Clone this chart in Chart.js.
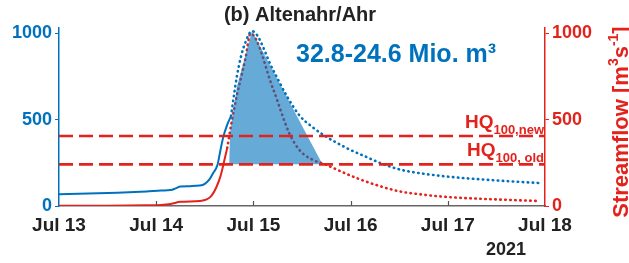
<!DOCTYPE html>
<html>
<head>
<meta charset="utf-8">
<script src="https://cdn.jsdelivr.net/npm/chart.js@4"></script>
<style>
  body { margin: 0; background: #fff; }
  #wrap { width: 629px; height: 263px; }
</style>
</head>
<body>
<div id="wrap"><canvas id="flowChart" width="629" height="263"></canvas></div>
<script>
// time axis is in days since Jul 13 2021 00:00
const dayLabels = ['Jul 13', 'Jul 14', 'Jul 15', 'Jul 16', 'Jul 17', 'Jul 18'];
const yTicks = [0, 500, 1000];
const hqNew = 405;
const hqOld = 241;

// gauge record (solid) and reconstructed peak (dotted), blue series
const blueObserved = [[0, 68], [0.3, 72], [0.6, 77], [0.9, 84], [1.05, 89], [1.15, 92], [1.2, 102],
  [1.25, 113], [1.35, 115], [1.45, 118], [1.5, 128], [1.55, 155], [1.585, 190], [1.63, 237],
  [1.66, 320], [1.69, 399], [1.73, 470], [1.77, 520]];
const blueDotted = [[1.77, 520], [1.8, 640], [1.83, 750], [1.87, 860], [1.92, 950], [1.985, 1012],
  [2.2, 790], [2.35, 630], [2.48, 520], [2.6, 460], [2.71, 415], [2.96, 335], [3.17, 282],
  [3.3, 250], [3.5, 212], [3.71, 190], [4.0, 170], [4.5, 148], [4.94, 133]];

// red series
const redObserved = [[0, 2], [0.5, 2], [0.9, 4], [1.05, 6], [1.15, 12], [1.25, 24], [1.45, 29],
  [1.52, 38], [1.57, 60], [1.62, 110], [1.66, 170], [1.69, 237], [1.73, 335]];
const redDotted = [[1.73, 335], [1.78, 497], [1.83, 640], [1.88, 760], [1.92, 860], [1.97, 998],
  [2.2, 682], [2.37, 420], [2.48, 320], [2.6, 270], [2.75, 238], [2.9, 200], [3.06, 162],
  [3.3, 115], [3.5, 85], [3.71, 68], [4.0, 52], [4.5, 38], [4.94, 29]];

// volume above HQ100,old (shaded)
const volumeArea = [[1.75, 241], [1.76, 420], [1.83, 688], [1.985, 1012], [2.71, 241]];

const titleText = '(b) Altenahr/Ahr';
const volumeText = '32.8-24.6 Mio. m\u00b3';
const yearText = '2021';
// right axis title pieces: [text, superscript?]
const rightTitle = [['Streamflow [m', false], ['3', true], ['s', false], ['-1', true], [']', false]];

const BLUE = '#0072BD';
const RED = '#e3231b';
const FONT = "'Liberation Sans', Arial, sans-serif";

const pts = arr => arr.map(p => ({ x: p[0], y: p[1] }));
const hLine = v => [{ x: 0, y: v }, { x: 5, y: v }];

Chart.defaults.font.family = FONT;

const extras = {
  id: 'extras',
  afterDraw(chart) {
    const ctx = chart.ctx;
    const area = chart.chartArea;
    const xs = chart.scales.x;
    const ys = chart.scales.y;
    ctx.save();

    // title
    ctx.fillStyle = '#222';
    ctx.textAlign = 'center';
    ctx.textBaseline = 'alphabetic';
    ctx.font = 'bold 20px ' + FONT;
    ctx.fillText(titleText, 300, 21);

    // small inward ticks on the time axis
    ctx.strokeStyle = '#555';
    ctx.lineWidth = 1.2;
    for (let i = 1; i < dayLabels.length - 1; i++) {
      const px = Math.round(xs.getPixelForValue(i)) + 0.5;
      ctx.beginPath();
      ctx.moveTo(px, area.bottom);
      ctx.lineTo(px, area.bottom - 5);
      ctx.stroke();
    }

    // HQ labels with subscripts
    ctx.fillStyle = RED;
    ctx.textAlign = 'right';
    [[hqNew, '100,new'], [hqOld, '100, old']].forEach(([v, sub]) => {
      const py = ys.getPixelForValue(v);
      const right = area.right - 1;
      ctx.font = 'bold 13px ' + FONT;
      ctx.fillText(sub, right, py - 2);
      const w = ctx.measureText(sub).width;
      ctx.font = 'bold 19px ' + FONT;
      ctx.fillText('HQ', right - w, py - 8);
    });

    // volume annotation
    ctx.fillStyle = BLUE;
    ctx.textAlign = 'left';
    ctx.font = 'bold 25px ' + FONT;
    ctx.fillText(volumeText, area.left + 237, area.top + 34);

    // year under last tick
    ctx.fillStyle = '#222';
    ctx.textAlign = 'center';
    ctx.font = 'bold 18px ' + FONT;
    ctx.fillText(yearText, area.right - 39, 255);

    // right axis title, reading bottom to top, with superscripts
    ctx.translate(628, (area.top + area.bottom) / 2 + 5);
    ctx.rotate(-Math.PI / 2);
    ctx.fillStyle = RED;
    ctx.textAlign = 'left';
    const big = 'bold 22px ' + FONT;
    const small = 'bold 14px ' + FONT;
    let total = 0;
    rightTitle.forEach(([t, sup]) => {
      ctx.font = sup ? small : big;
      total += ctx.measureText(t).width;
    });
    let u = -total / 2;
    rightTitle.forEach(([t, sup]) => {
      ctx.font = sup ? small : big;
      ctx.fillText(t, u, sup ? -10 : 0);
      u += ctx.measureText(t).width;
    });

    ctx.restore();
  }
};

const ctx = document.getElementById('flowChart').getContext('2d');
new Chart(ctx, {
  type: 'line',
  data: {
    datasets: [
      {
        data: hLine(hqNew),
        borderColor: RED, borderWidth: 2.6, borderDash: [14, 6],
        pointRadius: 0, order: 0
      },
      {
        data: hLine(hqOld),
        borderColor: RED, borderWidth: 2.6, borderDash: [14, 6],
        pointRadius: 0, order: 0
      },
      {
        data: pts(blueObserved),
        borderColor: BLUE, borderWidth: 2, pointRadius: 0,
        cubicInterpolationMode: 'monotone', order: 1
      },
      {
        data: pts(redObserved),
        borderColor: RED, borderWidth: 2, pointRadius: 0,
        cubicInterpolationMode: 'monotone', order: 2
      },
      {
        data: pts(volumeArea),
        borderWidth: 0, pointRadius: 0, tension: 0,
        backgroundColor: 'rgba(0, 114, 189, 0.6)',
        fill: { value: hqOld }, order: 3
      },
      {
        data: pts(blueDotted),
        borderColor: BLUE, borderWidth: 2.6, borderDash: [0.5, 4.5], borderCapStyle: 'round',
        pointRadius: 0, cubicInterpolationMode: 'monotone', order: 4
      },
      {
        data: pts(redDotted),
        borderColor: RED, borderWidth: 2.6, borderDash: [0.5, 4.5], borderCapStyle: 'round',
        pointRadius: 0, cubicInterpolationMode: 'monotone', order: 5
      }
    ]
  },
  options: {
    responsive: false,
    maintainAspectRatio: false,
    animation: false,
    layout: { padding: { top: 28 } },
    plugins: {
      legend: { display: false },
      tooltip: { enabled: false },
      title: { display: false }
    },
    scales: {
      x: {
        type: 'linear',
        min: 0,
        max: 5,
        afterFit: s => { s.height = 57; },
        afterBuildTicks: s => { s.ticks = dayLabels.map((_, i) => ({ value: i })); },
        ticks: {
          callback: v => dayLabels[v],
          color: '#222',
          font: { size: 19, weight: 'bold' },
          padding: 8,
          maxRotation: 0
        },
        grid: { drawOnChartArea: false, drawTicks: false },
        border: { display: true, color: '#666', width: 1.5 }
      },
      y: {
        position: 'left',
        min: 0,
        max: 1030,
        afterFit: s => { s.width = 59; },
        afterBuildTicks: s => { s.ticks = yTicks.map(v => ({ value: v })); },
        ticks: { color: BLUE, font: { size: 18, weight: 'bold' }, padding: 3, callback: v => String(v) },
        grid: { drawOnChartArea: false, tickLength: 4, color: BLUE },
        border: { display: true, color: BLUE, width: 1.5 }
      },
      y1: {
        position: 'right',
        min: 0,
        max: 1030,
        afterFit: s => { s.width = 84; },
        afterBuildTicks: s => { s.ticks = yTicks.map(v => ({ value: v })); },
        ticks: { color: RED, font: { size: 18, weight: 'bold' }, padding: 3, callback: v => String(v) },
        grid: { drawOnChartArea: false, tickLength: 4, color: RED },
        border: { display: true, color: RED, width: 1.5 }
      }
    }
  },
  plugins: [extras]
});
</script>
</body>
</html>
